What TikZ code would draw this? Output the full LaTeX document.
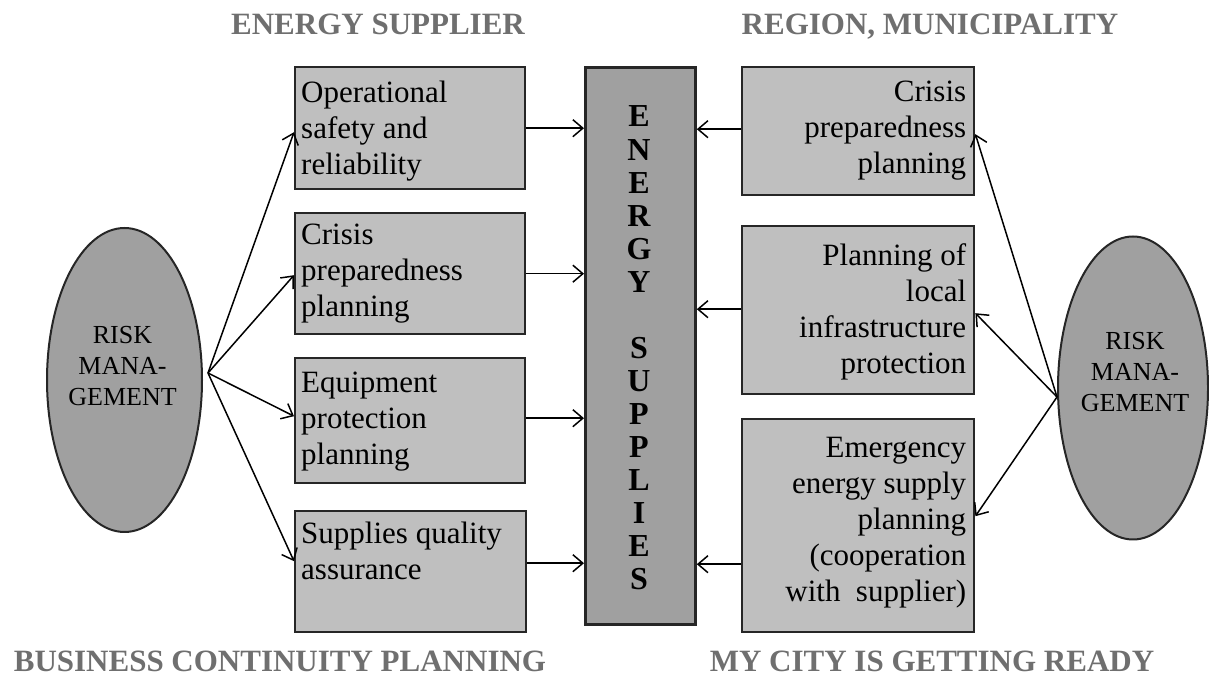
\documentclass[tikz,border=0pt]{standalone}
\usepackage{fontspec}
\setmainfont{Liberation Serif}
\usetikzlibrary{arrows.meta,shapes.geometric,calc}
\definecolor{boxfill}{HTML}{BFBFBF}
\definecolor{darkfill}{HTML}{A0A0A0}
\definecolor{edgecol}{HTML}{262626}
\definecolor{titlegray}{HTML}{6F6F6F}
\begin{document}
\begin{tikzpicture}[x=1pt,y=1pt,
  box/.style={draw=edgecol, line width=2.4pt, fill=boxfill, inner sep=0pt, anchor=north west},
  bigbox/.style={draw=edgecol, line width=2.8pt, fill=darkfill, inner sep=0pt, anchor=north west},
  risk/.style={ellipse, draw=edgecol, line width=2pt, fill=darkfill, inner sep=0pt},
  ltxt/.style={font=\fontsize{31}{36}\selectfont, inner sep=0pt, align=left, anchor=north west},
  rtxt/.style={font=\fontsize{31}{36}\selectfont, inner sep=0pt, align=right, anchor=north east},
  etxt/.style={font=\fontsize{26}{31}\selectfont, inner sep=0pt, align=center, anchor=north},
  title/.style={font=\fontsize{31}{36}\selectfont\bfseries, text=titlegray, inner sep=0pt, anchor=base},
  letter/.style={font=\fontsize{32}{33}\selectfont\bfseries, inner sep=0pt, anchor=base},
  arr/.style={draw=black, line width=1.5pt, -{Straight Barb[length=10pt,width=17pt]}}
]
\path[use as bounding box] (0,0) rectangle (1209,679);

% titles
\node[title] (t1) at (378,644) {ENERGY SUPPLIER};
\node[title] (t2) at (930,644) {REGION, MUNICIPALITY};
\node[title] (t3) at (280,7) {BUSINESS CONTINUITY PLANNING};
\node[title] (t4) at (932,7) {MY CITY IS GETTING READY};

% left boxes
\node[box, minimum width=230, minimum height=122] (b1) at (294,613) {};
\node[box, minimum width=230, minimum height=121] (b2) at (294,467) {};
\node[box, minimum width=230, minimum height=125] (b3) at (294,322) {};
\node[box, minimum width=231, minimum height=121] (b4) at (294,169) {};
\node[ltxt] (b1t) at ($(b1.north west)+(7,-14.5)$) {Operational\\safety and\\reliability};
\node[ltxt] (b2t) at ($(b2.north west)+(7,-11.5)$) {Crisis\\preparedness\\planning};
\node[ltxt] (b3t) at ($(b3.north west)+(7,-14.5)$) {Equipment\\protection\\planning};
\node[ltxt] (b4t) at ($(b4.north west)+(7,-11.5)$) {Supplies quality\\assurance};

% centre box
\node[bigbox, minimum width=110, minimum height=557] (c) at (584,613) {};
\foreach \l [count=\i] in {E,N,E,R,G,Y} {
  \node[letter] (es\i) at (639,{552-(\i-1)*33.07}) {\l};
}
\foreach \l [count=\i from 8] in {S,U,P,P,L,I,E,S} {
  \node[letter] (es\i) at (639,{552-(\i-1)*33.07}) {\l};
}

% right boxes
\node[box, minimum width=232, minimum height=128] (r1) at (741,613) {};
\node[box, minimum width=232, minimum height=168] (r2) at (741,454) {};
\node[box, minimum width=232, minimum height=213] (r3) at (741,261) {};
\node[rtxt] (r1t) at ($(r1.north east)+(-9,-15)$) {Crisis\\preparedness\\planning};
\node[rtxt] (r2t) at ($(r2.north east)+(-9,-18.5)$) {Planning of\\local\\infrastructure\\protection};
\node[rtxt] (r3t) at ($(r3.north east)+(-9,-19.5)$) {Emergency\\energy supply\\planning\\(cooperation\\with\ \ supplier)};

% ellipses
\node[risk, minimum width=155, minimum height=304] (eL) at (124.5,299) {};
\node[risk, minimum width=150, minimum height=303] (eR) at (1133,291) {};
\node[etxt] (eLt) at (122.5,353) {RISK\\MANA-\\GEMENT};
\node[etxt] (eRt) at (1135,347) {RISK\\MANA-\\GEMENT};

\coordinate (oL) at (208,306);
\coordinate (oR) at (1057,282);

% arrows from left risk management
\draw[arr] (oL) -- ([yshift=-4pt]b1.west);
\draw[arr] (oL) -- ([yshift=-1.5pt]b2.west);
\draw[arr] (oL) -- ([yshift=4.5pt]b3.west);
\draw[arr] (oL) -- ([yshift=10.5pt]b4.west);

% left boxes to centre
\draw[arr] (b1.east) -- (b1.east -| c.west);
\draw[arr] (b2.east) -- (b2.east -| c.west);
\draw[arr] ([yshift=2.5pt]b3.east) -- ([yshift=2.5pt]b3.east -| c.west);
\draw[arr] ([yshift=8.5pt]b4.east) -- ([yshift=8.5pt]b4.east -| c.west);

% right boxes to centre
\draw[arr] ([yshift=2pt]r1.west) -- ([yshift=2pt]r1.west -| c.east);
\draw[arr] ([yshift=1pt]r2.west) -- ([yshift=1pt]r2.west -| c.east);
\draw[arr] ([yshift=-38.5pt]r3.west) -- ([yshift=-38.5pt]r3.west -| c.east);

% arrows from right risk management
\draw[arr] (oR) -- ([yshift=-3pt]r1.east);
\draw[arr] (oR) -- ([yshift=-3pt]r2.east);
\draw[arr] (oR) -- ([yshift=9.5pt]r3.east);
\end{tikzpicture}
\end{document}
